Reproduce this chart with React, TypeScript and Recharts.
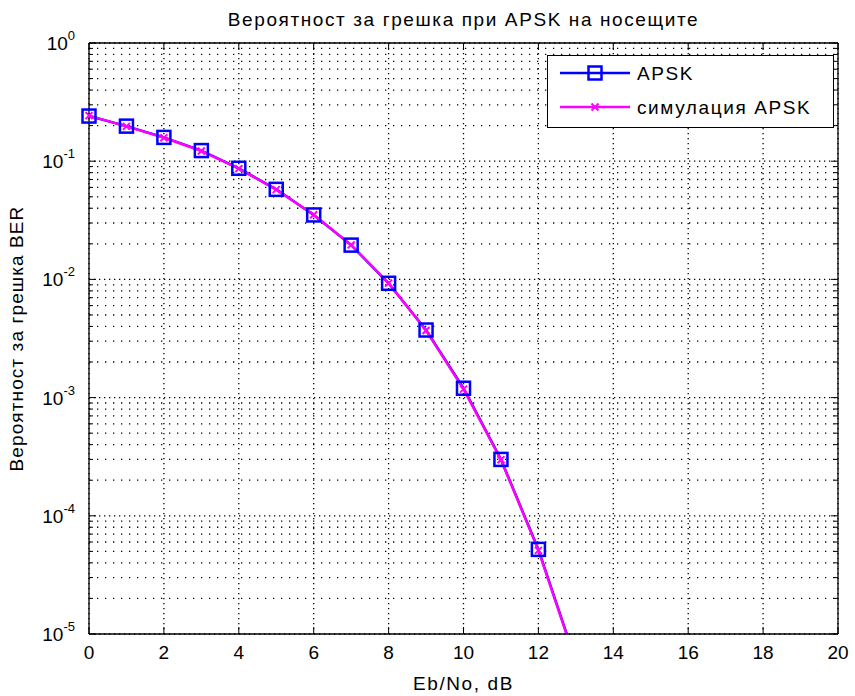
import React from 'react';
import { LineChart, Line, XAxis, YAxis, CartesianGrid, Legend, Label } from 'recharts';

// ---------- data ----------
const ebNo = [0, 1, 2, 3, 4, 5, 6, 7, 8, 9, 10, 11, 12, 13];
const berTheory = [0.241, 0.198, 0.159, 0.123, 0.0871, 0.0578, 0.0351, 0.0195, 0.00927, 0.00373, 0.0012, 0.0003, 0.000052, 0.0000059];
const berSim = [0.243, 0.197, 0.158, 0.122, 0.0865, 0.0575, 0.0352, 0.0196, 0.0093, 0.0037, 0.00118, 0.000298, 0.000051, 0.0000058];

const xTicks = [0, 2, 4, 6, 8, 10, 12, 14, 16, 18, 20];
const decadeExponents = [-5, -4, -3, -2, -1, 0];
const minorMultipliers = [2, 3, 4, 5, 6, 7, 8, 9];

const TITLE = 'Вероятност за грешка при APSK на носещите';
const X_LABEL = 'Eb/No, dB';
const Y_LABEL = 'Вероятност за грешка BER';
const seriesNames = ['APSK', 'симулация APSK'];

// ---------- derived ----------
const Y_MIN = Math.pow(10, decadeExponents[0]);
const Y_MAX = Math.pow(10, decadeExponents[decadeExponents.length - 1]);
const decadeTicks = decadeExponents.map((e) => Math.pow(10, e));
const minorTicks = decadeExponents
  .slice(0, -1)
  .flatMap((e) => minorMultipliers.map((m) => m * Math.pow(10, e)));
const allYTicks = [...decadeTicks, ...minorTicks].sort((a, b) => a - b);

const rows = ebNo.map((x, i) => ({ x, theory: berTheory[i], sim: berSim[i] }));
const markerRows = rows.filter((r) => r.theory >= Y_MIN && r.sim >= Y_MIN);

const FONT = '"Liberation Sans", Arial, sans-serif';
const FS = 19;
const LS = 1.6;
const BLUE = '#0000ff';
const MAGENTA = '#ff00ff';

const isDecade = (v: number) => Math.abs(Math.log10(v) - Math.round(Math.log10(v))) < 1e-9;

// ---------- ticks ----------
const LeftTick = (p: any) => {
  const { x, y, payload } = p;
  const v = payload.value;
  const major = isDecade(v);
  const len = major ? 7 : 4;
  return (
    <g>
      <line x1={x} x2={x + len} y1={y} y2={y} stroke="#000" strokeWidth={1} />
      {major && (
        <text x={x - 14} y={y + 7} textAnchor="end" fontFamily={FONT} fontSize={FS} fill="#000">
          <tspan>10</tspan>
          <tspan dy={-10} fontSize={13}>{String(Math.round(Math.log10(v)))}</tspan>
        </text>
      )}
    </g>
  );
};

const RightTick = (p: any) => {
  const { x, y, payload } = p;
  const len = isDecade(payload.value) ? 7 : 4;
  return <line x1={x} x2={x - len} y1={y} y2={y} stroke="#000" strokeWidth={1} />;
};

const BottomTick = (p: any) => {
  const { x, y, payload } = p;
  return (
    <g>
      <line x1={x} x2={x} y1={y} y2={y - 7} stroke="#000" strokeWidth={1} />
      <text x={x} y={y + 25} textAnchor="middle" fontFamily={FONT} fontSize={FS} fill="#000">
        {String(payload.value)}
      </text>
    </g>
  );
};

const TopTick = (p: any) => {
  const { x, y } = p;
  return <line x1={x} x2={x} y1={y} y2={y + 7} stroke="#000" strokeWidth={1} />;
};

// ---------- markers ----------
const SquareDot = (p: any) => {
  const { cx, cy, index } = p;
  if (cx == null || cy == null) return <g key={`s${index}`} />;
  const h = 6.5;
  return (
    <rect key={`s${index}`} x={cx - h} y={cy - h} width={2 * h} height={2 * h} fill="none" stroke={BLUE} strokeWidth={2.5} />
  );
};

const CrossDot = (p: any) => {
  const { cx, cy, index } = p;
  if (cx == null || cy == null) return <g key={`c${index}`} />;
  const h = 3.5;
  return (
    <path
      key={`c${index}`}
      d={`M${cx - h},${cy - h}L${cx + h},${cy + h}M${cx - h},${cy + h}L${cx + h},${cy - h}`}
      stroke={MAGENTA}
      strokeWidth={2}
      fill="none"
    />
  );
};

// ---------- labels ----------
const TitleLabel = (p: any) => {
  const vb = p.viewBox;
  return (
    <text x={vb.x + vb.width / 2} y={26} textAnchor="middle" fontFamily={FONT} fontSize={FS} letterSpacing={LS} fill="#000">
      {TITLE}
    </text>
  );
};

const XTitle = (p: any) => {
  const vb = p.viewBox;
  return (
    <text x={vb.x + vb.width / 2} y={vb.y + 56} textAnchor="middle" fontFamily={FONT} fontSize={FS} letterSpacing={LS} fill="#000">
      {X_LABEL}
    </text>
  );
};

const YTitle = () => {
  const cy = 43 + (634 - 43) / 2;
  return (
    <text
      x={23}
      y={cy}
      transform={`rotate(-90 23 ${cy})`}
      textAnchor="middle"
      fontFamily={FONT}
      fontSize={FS}
      letterSpacing={1.1}
      fill="#000"
    >
      {Y_LABEL}
    </text>
  );
};

// ---------- legend ----------
const LegendBox = () => (
  <svg width={287} height={73} style={{ display: 'block' }}>
    <rect x={0.5} y={0.5} width={286} height={72} fill="#fff" stroke="#000" strokeWidth={1} />
    <line x1={13} x2={83} y1={18} y2={18} stroke={BLUE} strokeWidth={2.5} />
    <rect x={48 - 6.5} y={18 - 6.5} width={13} height={13} fill="none" stroke={BLUE} strokeWidth={2.5} />
    <text x={90} y={25} fontFamily={FONT} fontSize={FS} letterSpacing={LS} fill="#000">{seriesNames[0]}</text>
    <line x1={13} x2={83} y1={52} y2={52} stroke={MAGENTA} strokeWidth={2.5} />
    <path d="M44.5,48.5L51.5,55.5M44.5,55.5L51.5,48.5" stroke={MAGENTA} strokeWidth={2} fill="none" />
    <text x={90} y={59} fontFamily={FONT} fontSize={FS} letterSpacing={LS} fill="#000">{seriesNames[1]}</text>
  </svg>
);

export default function App() {
  return (
    <div style={{ position: 'absolute', left: 0, top: 0, width: 855, height: 696, background: '#fff' }}>
      <LineChart width={855} height={696} data={rows} margin={{ top: 0, right: 0, bottom: 0, left: 0 }}>
        <CartesianGrid
          xAxisId="bottom"
          yAxisId="left"
          horizontal={true}
          vertical={false}
          horizontalValues={minorTicks}
          stroke="#000"
          strokeWidth={1.3}
          strokeDasharray="1.3 6.7"
        />
        <CartesianGrid
          xAxisId="bottom"
          yAxisId="left"
          horizontalValues={decadeTicks}
          verticalValues={xTicks}
          stroke="#000"
          strokeWidth={1.3}
          strokeDasharray="1.3 3.7"
        />
        <XAxis
          xAxisId="bottom"
          dataKey="x"
          type="number"
          domain={[0, 20]}
          ticks={xTicks}
          interval={0}
          height={62}
          tickSize={0}
          tickMargin={0}
          tick={BottomTick}
          axisLine={{ stroke: '#000', strokeWidth: 1.3 }}
          tickLine={false}
        >
          <Label content={XTitle} />
        </XAxis>
        <XAxis
          xAxisId="top"
          orientation="top"
          dataKey="x"
          type="number"
          domain={[0, 20]}
          ticks={xTicks}
          interval={0}
          height={43}
          tickSize={0}
          tickMargin={0}
          tick={TopTick}
          axisLine={{ stroke: '#000', strokeWidth: 1.3 }}
          tickLine={false}
        >
          <Label content={TitleLabel} />
        </XAxis>
        <YAxis
          yAxisId="left"
          scale="log"
          domain={[Y_MIN, Y_MAX]}
          allowDataOverflow
          ticks={allYTicks}
          interval={0}
          width={89}
          tickSize={0}
          tickMargin={0}
          tick={LeftTick}
          axisLine={{ stroke: '#000', strokeWidth: 1.3 }}
          tickLine={false}
        >
          <Label content={YTitle} />
        </YAxis>
        <YAxis
          yAxisId="right"
          orientation="right"
          scale="log"
          domain={[Y_MIN, Y_MAX]}
          ticks={allYTicks}
          interval={0}
          width={17}
          tickSize={0}
          tickMargin={0}
          tick={RightTick}
          axisLine={{ stroke: '#000', strokeWidth: 1.3 }}
          tickLine={false}
        />
        <Line
          xAxisId="bottom"
          yAxisId="left"
          dataKey="theory"
          name={seriesNames[0]}
          stroke={BLUE}
          strokeWidth={2.5}
          dot={false}
          activeDot={false}
          isAnimationActive={false}
        />
        <Line
          xAxisId="bottom"
          yAxisId="right"
          data={markerRows}
          dataKey="theory"
          stroke="none"
          dot={SquareDot}
          activeDot={false}
          legendType="none"
          isAnimationActive={false}
        />
        <Line
          xAxisId="bottom"
          yAxisId="left"
          dataKey="sim"
          name={seriesNames[1]}
          stroke={MAGENTA}
          strokeWidth={2.5}
          dot={false}
          activeDot={false}
          isAnimationActive={false}
        />
        <Line
          xAxisId="bottom"
          yAxisId="right"
          data={markerRows}
          dataKey="sim"
          stroke="none"
          dot={CrossDot}
          activeDot={false}
          legendType="none"
          isAnimationActive={false}
        />
        <Legend
          layout="horizontal"
          align="center"
          verticalAlign="middle"
          content={LegendBox}
          wrapperStyle={{ position: 'absolute', left: 547, top: 55, width: 287, height: 73 }}
        />
      </LineChart>
    </div>
  );
}
